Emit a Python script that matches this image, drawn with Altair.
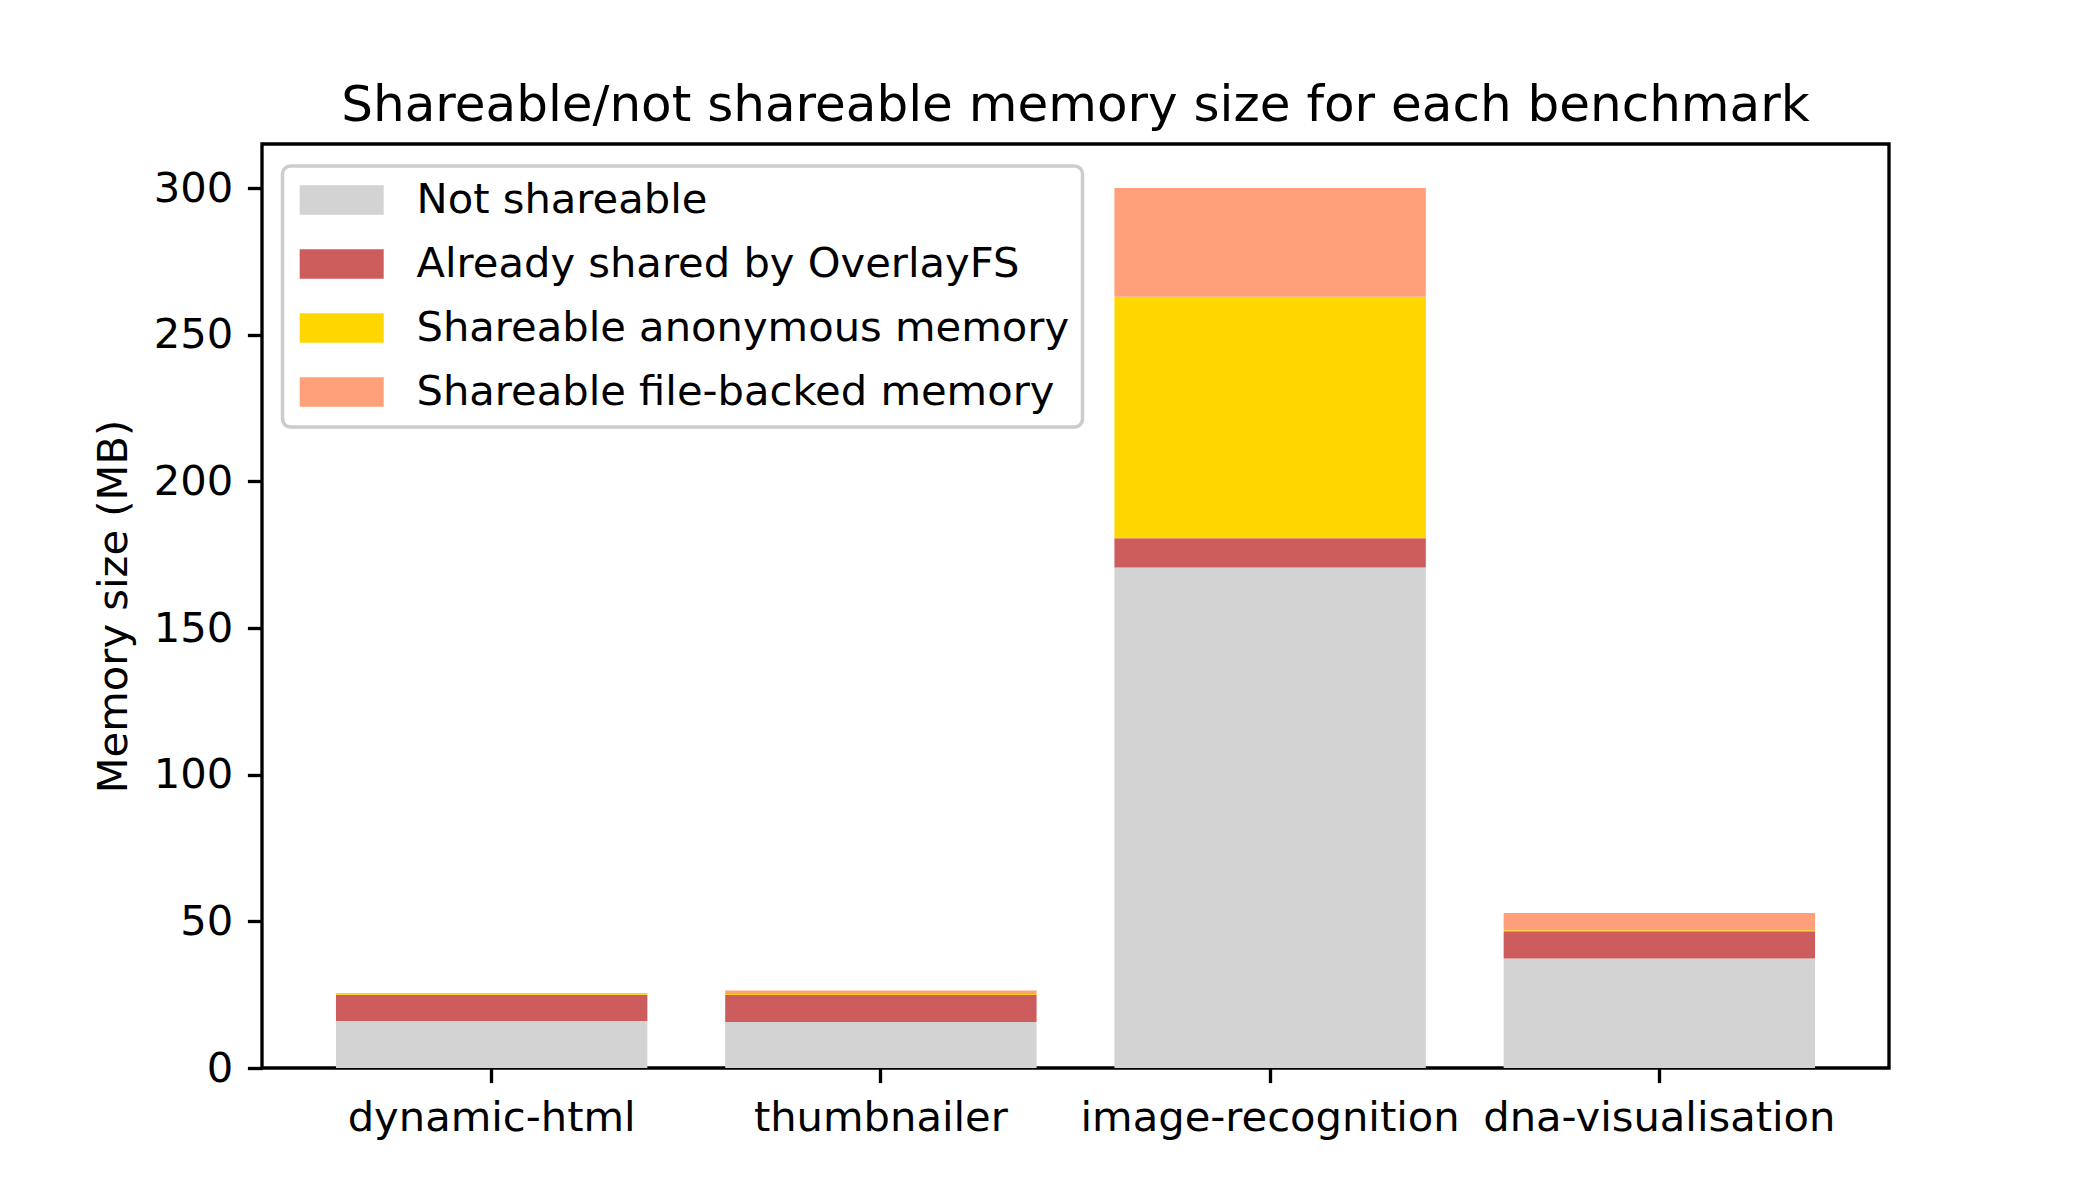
import altair as alt
import pandas as pd

benchmarks = ["dynamic-html", "thumbnailer", "image-recognition", "dna-visualisation"]
categories = ["Not shareable", "Already shared by OverlayFS",
              "Shareable anonymous memory", "Shareable file-backed memory"]
colors = ["#d3d3d3", "#cd5c5c", "#ffd700", "#ffa07a"]

not_shareable = [16.0, 15.7, 170.6, 37.3]
overlayfs = [9.0, 9.2, 10.0, 9.3]
anonymous = [0.6, 0.3, 82.3, 0.4]
file_backed = [0.0, 1.2, 37.1, 5.8]

series = [not_shareable, overlayfs, anonymous, file_backed]
rows = []
for ci, (cat, vals) in enumerate(zip(categories, series)):
    for b, v in zip(benchmarks, vals):
        rows.append({"benchmark": b, "category": cat, "idx": ci, "value": v})
df = pd.DataFrame(rows)

FONT = "DejaVu Sans"
FS = 41.67

chart = alt.Chart(df).mark_bar().encode(
    x=alt.X("benchmark:N", sort=benchmarks,
            scale=alt.Scale(paddingInner=0.2, paddingOuter=0.19),
            axis=alt.Axis(title=None, labelAngle=0, labelLimit=2000)),
    y=alt.Y("value:Q", stack="zero",
            scale=alt.Scale(domain=[0, 315], nice=False, zero=True),
            axis=alt.Axis(title="Memory size (MB)", values=[0, 50, 100, 150, 200, 250, 300])),
    color=alt.Color("category:N", sort=categories,
                    scale=alt.Scale(domain=categories, range=colors),
                    legend=alt.Legend(title=None, orient="none", legendX=20.5, legendY=22)),
    order=alt.Order("idx:Q", sort="ascending"),
).properties(
    width=1627,
    height=924,
    autosize=alt.AutoSizeParams(type="none"),
    padding={"left": 254, "top": 136, "right": 200, "bottom": 120},
    title=alt.Title("Shareable/not shareable memory size for each benchmark",
                    fontSize=50, font=FONT, fontWeight="normal", color="black",
                    offset=13, anchor="middle"),
).configure_view(
    stroke="black", strokeWidth=3.33
).configure_axis(
    labelFont=FONT, titleFont=FONT, labelFontSize=FS, titleFontSize=FS,
    labelColor="black", titleColor="black", titleFontWeight="normal",
    domain=False, grid=False,
    tickColor="black", tickWidth=3.33, tickSize=14.6, labelPadding=14.6,
).configure_axisY(
    titlePadding=18,
).configure_legend(
    labelFont=FONT, labelFontSize=FS, labelColor="black", labelLimit=2000,
    symbolType="M-0.8,-0.7H3.2V0.7H-0.8Z", symbolSize=1764, symbolStrokeWidth=0,
    symbolOpacity=1, labelOffset=79, rowPadding=21, padding=13,
    fillColor="white", strokeColor="#cccccc", strokeWidth=3.5, cornerRadius=8,
)

chart.save("out.html", embed_options={"renderer": "svg", "actions": False})
